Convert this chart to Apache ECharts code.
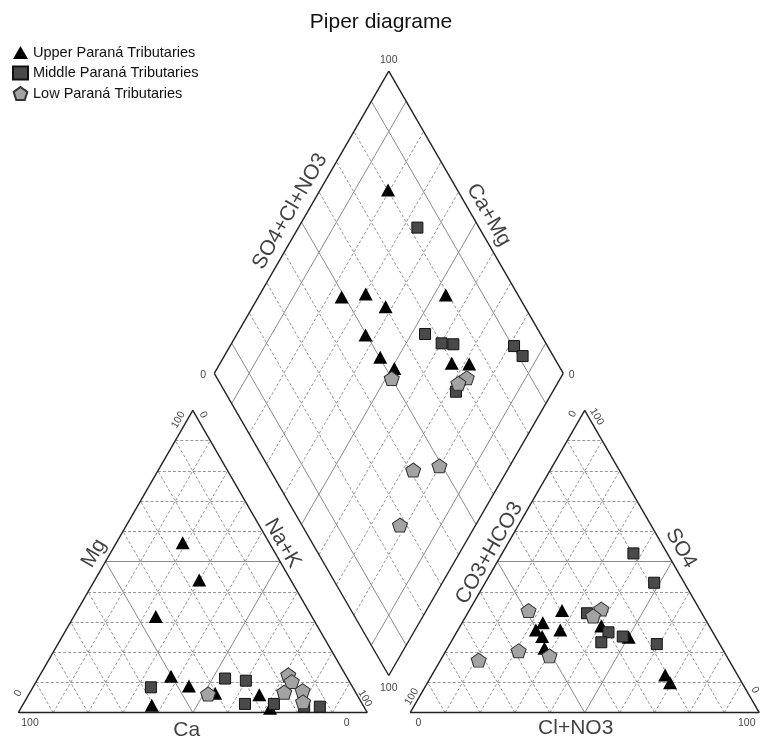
<!DOCTYPE html>
<html><head><meta charset="utf-8">
<script src="https://cdn.jsdelivr.net/npm/echarts@6/dist/echarts.min.js"></script>
<style>html,body{margin:0;padding:0;background:#fff;}#c{width:762px;height:740px;}</style>
</head><body><div id="c"></div>
<script>
// ---------------- DATA ----------------
const chartTitle = 'Piper diagrame';
const groupNames = ['Upper Paraná Tributaries', 'Middle Paraná Tributaries', 'Low Paraná Tributaries'];

// Cation triangle: [Mg %, Na+K %]   (Ca = 100 - Mg - Na+K)
const upperCation  = [[56.2,19.0],[43.9,29.9],[31.8,23.5],[12.1,37.7],[8.8,44.5],[6.4,53.2],[5.9,66.1],[2.5,37.0],[1.5,71.4]];
const middleCation = [[8.4,33.8],[11.3,53.6],[10.6,59.9],[2.9,63.5],[2.9,71.8],[2.0,80.9],[2.0,85.4]];
const lowCation    = [[6.2,51.3],[12.5,71.1],[10.3,73.2],[6.8,72.8],[7.3,77.8],[3.6,79.8]];

// Anion triangle: [SO4 %, Cl+NO3 %]  (CO3+HCO3 = 100 - SO4 - Cl)
const upperAnion  = [[33.8,26.6],[29.8,23.1],[27.4,22.3],[25.2,25.2],[27.4,29.3],[21.3,27.8],[28.7,40.4],[25.0,50.1],[12.5,66.8],[9.9,69.5]];
const middleAnion = [[52.7,37.6],[43.0,48.4],[32.9,34.2],[26.6,43.5],[23.3,43.1],[25.2,48.3],[22.7,59.3]];
const lowAnion    = [[33.8,17.0],[34.3,37.6],[32.0,36.4],[20.5,20.8],[18.8,30.5],[17.4,10.9]];

// Diamond: [SO4+Cl+NO3 %, Ca+Mg %]
const upperDiamond  = [[80.1,80.5],[49.1,76.1],[56.5,69.7],[60.1,61.9],[79.3,46.6],[49.7,63.0],[50.2,55.1],[52.4,49.2],[69.7,33.6],[74.6,28.5]];
const middleDiamond = [[82.3,65.9],[66.9,46.1],[70.1,39.8],[73.3,36.3],[90.4,18.6],[91.2,14.5],[66.2,27.7]];
const lowDiamond    = [[50.0,48.3],[71.6,26.9],[68.3,28.4],[41.0,27.0],[49.2,20.2],[28.1,21.7]];

// Axis names and tick texts
const cationNames = ['Mg', 'Na+K', 'Ca'];
const anionNames = ['CO3+HCO3', 'SO4', 'Cl+NO3'];
const diamondNames = ['SO4+Cl+NO3', 'Ca+Mg'];
const tickMin = '0', tickMax = '100';

// ---------------- GEOMETRY ----------------
const FONT = "'Liberation Sans',Arial,sans-serif";
const H = Math.sqrt(3) / 2, G = 12.3;          // triangle side = 100 units, gap between triangles
const PX = 3.49, OX = 18.3, OY = 712.7;         // pixels per unit, pixel of origin
const W = 762, HT = 740;
function cat(mg, nak) { return [nak + mg / 2, mg * H]; }
function ani(so4, cl) { return [100 + G + cl + so4 / 2, so4 * H]; }
function dia(p, q) { return [100 + G / 2 + (p - q) / 2, G * H + (p + q) * H]; }
function at(pt, dx, dy) { return [pt[0] + dx / PX, pt[1] - dy / PX]; }

const outline = [], major = [], minor = [];
function triLines(f) {
  outline.push([f(0,0), f(0,100)], [f(0,100), f(100,0)], [f(100,0), f(0,0)]);
  for (let k = 10; k < 100; k += 10) {
    const arr = k === 50 ? major : minor;
    arr.push([f(k,0), f(k,100-k)]);
    arr.push([f(0,k), f(100-k,k)]);
    arr.push([f(0,100-k), f(100-k,0)]);
  }
}
triLines(cat); triLines(ani);
outline.push([dia(0,0), dia(100,0)], [dia(100,0), dia(100,100)], [dia(100,100), dia(0,100)], [dia(0,100), dia(0,0)]);
for (let k = 10; k < 100; k += 10) {
  const arr = (k === 10 || k === 50 || k === 90) ? major : minor;
  arr.push([dia(k,0), dia(k,100)]);
  arr.push([dia(0,k), dia(100,k)]);
}

// ---------------- LABELS ----------------
const texts = [];
function txt(text, pos, rot, size) { texts.push({ value: pos, name: text, rot: rot || 0, size: size }); }
const TS = 10.5, AS = 21;
// cation triangle ticks
txt(tickMax, at(cat(0,0), 11.7, 10.6), 0, TS);
txt(tickMin, at(cat(0,100), -20.6, 10.6), 0, TS);
txt(tickMin, at(cat(0,0), 0, -19.4), 60, TS);
txt(tickMax, at(cat(100,0), -14.5, 9.5), 60, TS);
txt(tickMin, at(cat(100,0), 10.5, 4.5), -60, TS);
txt(tickMax, at(cat(0,100), -2.3, -14.4), -60, TS);
// anion triangle ticks
txt(tickMin, at(ani(0,0), 8.1, 10.6), 0, TS);
txt(tickMax, at(ani(0,100), -12.5, 10.6), 0, TS);
txt(tickMax, at(ani(0,0), 1.5, -16), 60, TS);
txt(tickMin, at(ani(100,0), -12, 3.5), 60, TS);
txt(tickMax, at(ani(100,0), 12, 6.2), -60, TS);
txt(tickMin, at(ani(0,100), -4.2, -22.7), -60, TS);
// diamond ticks
txt(tickMax, at(dia(100,100), 0, -10.5), 0, TS);
txt(tickMin, at(dia(0,100), -11, 1.7), 0, TS);
txt(tickMin, at(dia(100,0), 8.4, 1.7), 0, TS);
txt(tickMax, at(dia(0,0), 0, 12.8), 0, TS);
// axis names
txt(cationNames[0], at(cat(50,0), -11.5, -8.3), 60, AS);
txt(cationNames[1], at(cat(50,50), 2.5, -18.3), -60, AS);
txt(cationNames[2], at(cat(0,50), -6.1, 18), 0, AS);
txt(anionNames[0], at(ani(50,0), -8, -8.5), 60, AS);
txt(anionNames[1], at(ani(50,50), 9, -13.3), -60, AS);
txt(anionNames[2], at(ani(0,50), -9, 16), 0, AS);
txt(diamondNames[0], at(dia(50,100), -11.5, -10.7), 60, AS);
txt(diamondNames[1], at(dia(100,50), 12.7, -7.2), -60, AS);

// ---------------- SERIES ----------------
const pentagon = 'path://M50,0 L97.55,34.55 L79.39,90.45 L20.61,90.45 L2.45,34.55 Z';
function pts(c, a, d) {
  return c.map(v => cat(v[0], v[1])).concat(a.map(v => ani(v[0], v[1]))).concat(d.map(v => dia(v[0], v[1])));
}
function lineSeries(segs, style, z) {
  return { type: 'lines', coordinateSystem: 'cartesian2d', silent: true, z: z, animation: false,
    data: segs.map(s => ({ coords: s })), lineStyle: style };
}

const chart = echarts.init(document.getElementById('c'));
chart.setOption({
  animation: false,
  backgroundColor: '#fff',
  title: { text: chartTitle, left: 'center', top: 7,
    textStyle: { fontFamily: FONT, fontSize: 21, fontWeight: 'normal', color: '#111' } },
  legend: { orient: 'vertical', left: 7, top: 40, itemWidth: 15, itemHeight: 13, itemGap: 5.5,
    data: groupNames, textStyle: { fontFamily: FONT, fontSize: 14.5, color: '#111' } },
  grid: { left: 0, right: 0, top: 0, bottom: 0 },
  xAxis: { type: 'value', min: -OX / PX, max: (W - OX) / PX, show: false },
  yAxis: { type: 'value', min: -(HT - OY) / PX, max: OY / PX, show: false },
  series: [
    lineSeries(minor, { color: '#8a8a8a', width: 0.9, type: [3, 2], opacity: 1 }, 1),
    lineSeries(major, { color: '#8a8a8a', width: 1, type: 'solid', opacity: 1 }, 2),
    lineSeries(outline, { color: '#222', width: 1.4, type: 'solid', opacity: 1 }, 3),
    { name: groupNames[0], type: 'scatter', z: 5, symbol: 'triangle', symbolSize: [14, 13],
      itemStyle: { color: '#000', opacity: 1 }, data: pts(upperCation, upperAnion, upperDiamond) },
    { name: groupNames[1], type: 'scatter', z: 5, symbol: 'rect', symbolSize: 11,
      itemStyle: { color: '#4a4a4a', borderColor: '#111', borderWidth: 1, opacity: 1 }, data: pts(middleCation, middleAnion, middleDiamond) },
    { name: groupNames[2], type: 'scatter', z: 5, symbol: pentagon, symbolSize: [15, 14],
      itemStyle: { color: '#a3a3a3', borderColor: '#333', borderWidth: 1, opacity: 1 }, data: pts(lowCation, lowAnion, lowDiamond) },
    { type: 'scatter', z: 6, silent: true, symbol: 'circle', symbolSize: 1,
      itemStyle: { color: 'rgba(0,0,0,0)' },
      data: texts.map(t => ({ value: t.value, name: t.name,
        label: { show: true, position: 'inside', formatter: '{b}', rotate: t.rot, fontSize: t.size,
          fontFamily: FONT, color: '#111', align: 'center', verticalAlign: 'middle' } })) }
  ]
});
</script>
</body></html>
